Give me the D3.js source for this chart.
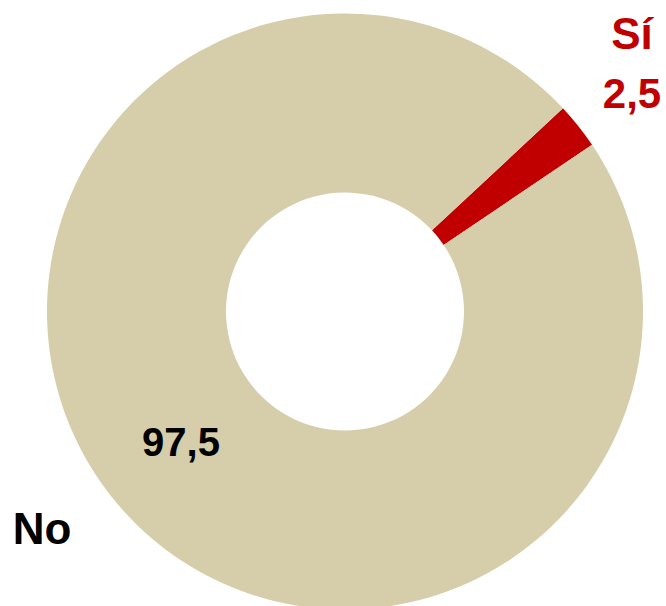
<!DOCTYPE html>
<html>
<head>
<meta charset="utf-8">
<script src="https://cdn.jsdelivr.net/npm/d3@7"></script>
<style>
html,body{margin:0;padding:0;background:#fff;}
svg{display:block;}
text{font-family:"Liberation Sans",Arial,sans-serif;font-weight:bold;}
</style>
</head>
<body>
<svg id="chart" width="666" height="606"></svg>
<script>
const categories = ["Sí", "No"];
const values = [2.5, 97.5];
const valueLabels = ["2,5", "97,5"];
const colors = ["#C00000", "#D6CDAA"];

const W = 666, H = 606;
const cx = 345, cy = 311.5;
const outerR = 298, innerR = 119;
const startDeg = 47;

const svg = d3.select("#chart");
const g = svg.append("g").attr("transform", `translate(${cx},${cy})`);

const pie = d3.pie().sort(null)
  .startAngle(startDeg * Math.PI / 180)
  .endAngle(startDeg * Math.PI / 180 + 2 * Math.PI);
const arcs = pie(values);
const arc = d3.arc().innerRadius(innerR).outerRadius(outerR);

g.selectAll("path.slice").data(arcs).enter().append("path")
  .attr("class", "slice")
  .attr("d", arc)
  .attr("fill", (d, i) => colors[i]);

// Label layout (relative to centre)
const labelPos = [
  {cat: [287, -263], val: [287, -204], color: "#C00000", catSize: 44, valSize: 42},
  {cat: [-303, 232], val: [-164, 144], color: "#000000", catSize: 44, valSize: 40}
];

categories.forEach((c, i) => {
  const p = labelPos[i];
  g.append("text").attr("x", p.cat[0]).attr("y", p.cat[1])
    .attr("text-anchor", "middle").attr("fill", p.color)
    .attr("font-size", p.catSize).text(c);
  g.append("text").attr("x", p.val[0]).attr("y", p.val[1])
    .attr("text-anchor", "middle").attr("fill", p.color)
    .attr("font-size", p.valSize).text(valueLabels[i]);
});
</script>
</body>
</html>
